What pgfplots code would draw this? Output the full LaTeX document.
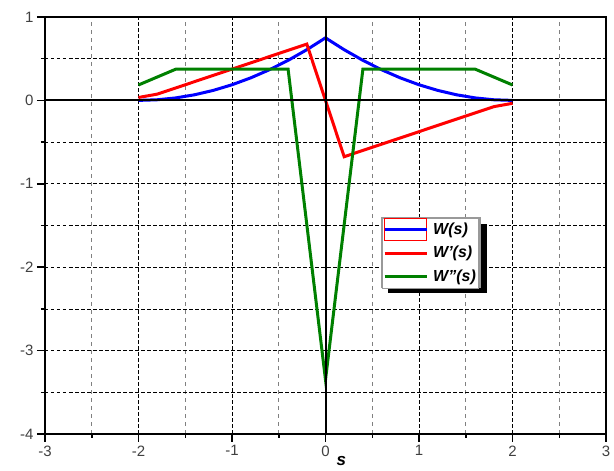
\documentclass[border=0pt]{standalone}
\usepackage{fontspec}
\setmainfont{Liberation Sans}
\usepackage{pgfplots}
\pgfplotsset{compat=1.18}

\pgfplotstableread{
s W
-2.0 0.0
-1.8 0.0075
-1.6 0.03
-1.4 0.0675
-1.2 0.12
-1.0 0.1875
-0.8 0.27
-0.6 0.3675
-0.4 0.48
-0.2 0.6075
0.0 0.75
0.2 0.6075
0.4 0.48
0.6 0.3675
0.8 0.27
1.0 0.1875
1.2 0.12
1.4 0.0675
1.6 0.03
1.8 0.0075
2.0 0.0
}\tabW

\pgfplotstableread{
s dW
-2.0 0.035
-1.8 0.075
-1.6 0.15
-1.4 0.225
-1.2 0.30
-1.0 0.375
-0.8 0.45
-0.6 0.525
-0.4 0.60
-0.2 0.675
0.0 0.0
0.2 -0.675
0.4 -0.60
0.6 -0.525
0.8 -0.45
1.0 -0.375
1.2 -0.30
1.4 -0.225
1.6 -0.15
1.8 -0.075
2.0 -0.035
}\tabdW

\pgfplotstableread{
s ddW
-2.0 0.185
-1.6 0.375
-1.2 0.375
-0.8 0.375
-0.4 0.375
0.0 -3.35
0.4 0.375
0.8 0.375
1.2 0.375
1.6 0.375
2.0 0.185
}\tabddW

\begin{document}
\begin{tikzpicture}
\useasboundingbox (-45pt,-37pt) rectangle (569pt,434pt);
\begin{axis}[
  at={(0pt,0pt)}, anchor=south west,
  scale only axis, width=561pt, height=417pt,
  xmin=-3, xmax=3, ymin=-4, ymax=1,
  xtick={-3,-2,-1,0,1,2,3}, ytick={-4,-3,-2,-1,0,1},
  minor x tick num=1, minor y tick num=1,
  xtick pos=bottom, ytick pos=left,
  tick align=outside,
  major tick length=8pt, minor tick length=4pt,
  tick style={black, line width=1.5pt},
  axis line style={black, line width=2pt},
  grid=both,
  major x grid style={black, line width=0.6pt, dash pattern=on 3.5pt off 2.5pt},
  minor x grid style={gray, line width=0.9pt, dash pattern=on 4pt off 4pt},
  major y grid style={black, line width=0.6pt, dash pattern=on 3.5pt off 2.5pt},
  minor y grid style={black, line width=0.6pt, dash pattern=on 3.5pt off 2.5pt},
  /pgf/number format/assume math mode=true,
  tick label style={font=\fontsize{15}{17}\selectfont, text=black!75},
  xlabel={\textbf{\textit{s}}},
  xlabel style={at={(axis description cs:0.5283,0)}, anchor=base, yshift=-32pt, font=\fontsize{17}{19}\selectfont},
  legend style={at={(axis cs:0.604,-1.41)}, anchor=north west, draw=gray!80, fill=white,
    font=\fontsize{16}{18}\selectfont\bfseries\itshape, inner xsep=1pt, inner ysep=0pt, row sep=0pt,
    column sep=4pt,
    nodes={inner xsep=1pt, inner ysep=3.5pt, text height=12.5pt, text depth=4pt},
    cells={anchor=west}},
  legend image code/.code={\draw[#1] [line width=3pt] (0pt,0pt) -- (42pt,0pt);},
]
\addplot[blue, line width=3pt, legend image code/.code={\draw[red, line width=1pt, overlay] (0pt,-11pt) rectangle (42pt,11pt); \draw[blue, line width=3pt] (0pt,0pt) -- (42pt,0pt);}] table[x=s, y=W] {\tabW};
\addlegendentry{W(s)}
\addplot[red, line width=3pt] table[x=s, y=dW] {\tabdW};
\addlegendentry{W'(s)}
\addplot[green!50!black, line width=3pt] table[x=s, y=ddW] {\tabddW};
\addlegendentry{W''(s)}
\draw[black, line width=2pt] (axis cs:-3,0) -- (axis cs:3,0);
\draw[black, line width=2pt] (axis cs:0,-4) -- (axis cs:0,1);
\fill[black] (axis cs:0.668,-1.482) rectangle (axis cs:1.727,-2.309);
\draw[gray!80, line width=1.2pt] (axis cs:0.604,-1.41) rectangle (axis cs:1.652,-2.237);
\end{axis}
\end{tikzpicture}
\end{document}
